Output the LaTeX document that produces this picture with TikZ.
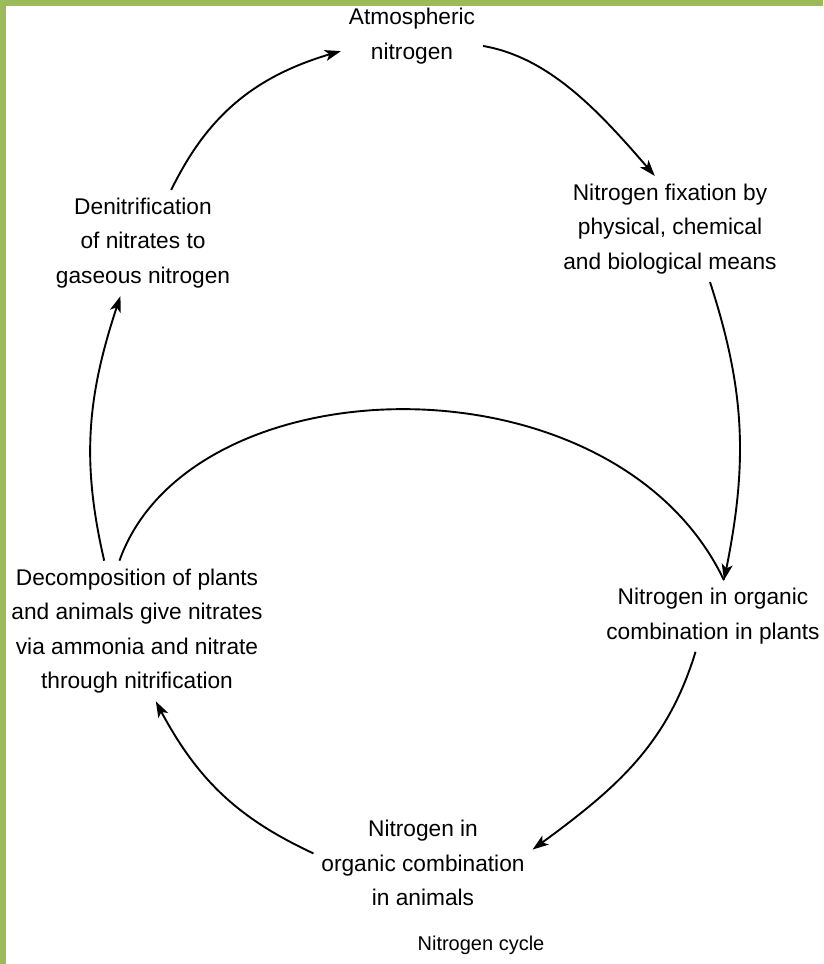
\documentclass[tikz,border=0pt]{standalone}
\usepackage{fontspec}
\setmainfont{Liberation Sans}
\usetikzlibrary{arrows.meta,bending}
\definecolor{framegreen}{HTML}{9BBB59}

\begin{document}
\begin{tikzpicture}[x=1pt,y=1pt,
  stage/.style={align=center,inner sep=0pt,outer sep=8pt,font=\fontsize{22.7}{34.5}\selectfont},
  cycle/.style={line width=1.9pt,-{Stealth[length=16pt,width=11pt,inset=4pt]}}]
  % Fix the page size
  \useasboundingbox (0,0) rectangle (823,964);

  % Draw the green frame on the top and left
  \fill[framegreen] (0,958) rectangle (823,964);
  \fill[framegreen] (0,0) rectangle (6,964);

  % Draw the stages of the cycle
  \node[stage] (atm) at (412,928) {Atmospheric\\nitrogen};
  \node[stage] (fix) at (670,735) {Nitrogen fixation by\\physical, chemical\\and biological means};
  \node[stage] (plants) at (713,348) {Nitrogen in organic\\combination in plants};
  \node[stage] (anim) at (423,101) {Nitrogen in\\organic combination\\in animals};
  \node[stage] (decomp) at (137,333) {Decomposition of plants\\and animals give nitrates\\via ammonia and nitrate\\through nitrification};
  \node[stage] (denit) at (143,721) {Denitrification\\of nitrates to\\gaseous nitrogen};

  % Draw the caption
  \node[font=\fontsize{20}{24}\selectfont] (caption) at (481,19) {Nitrogen cycle};

  % Draw the arrows round the cycle
  \draw[cycle] (denit.62) to[out=64,in=195] (atm.192);
  \draw[cycle] (atm.352) .. controls +(70,-12) and +(-50,58) .. (fix.106);
  \draw[cycle] (fix.307) to[out=-72,in=78] (plants.73);
  \draw[cycle] (plants.244) to[out=253,in=36] (anim.7);
  \draw[cycle] (anim.175) to[out=155,in=297] (decomp.285);
  \draw[cycle] (decomp.115) to[out=103,in=251] (denit.247);

  % Draw the long arc from decomposition to plants
  \draw[line width=1.9pt] (decomp.104) .. controls +(71,200) and +(-110,230) .. (plants.73);
\end{tikzpicture}
\end{document}
